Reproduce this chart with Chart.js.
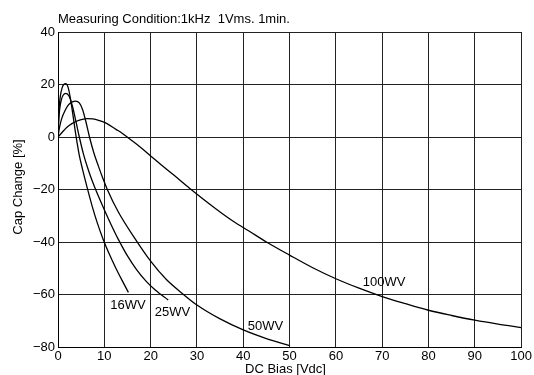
<!DOCTYPE html>
<html>
<head>
<meta charset="utf-8">
<script src="https://cdn.jsdelivr.net/npm/chart.js@4/dist/chart.umd.min.js"></script>
<style>
html,body{margin:0;padding:0;background:#fff;}
#wrap{width:534px;height:375px;position:relative;}
</style>
</head>
<body>
<div id="wrap"><canvas id="c" width="534" height="375"></canvas></div>
<script>
// ---- data ----
const xTicks = [0,10,20,30,40,50,60,70,80,90,100];
const yTicks = [-80,-60,-40,-20,0,20,40];

const vdc16 = [0,0.2,0.5,0.9,1.3,1.65,2.2,2.7,3.2,3.7,4.15,4.6,5.3,6.3,7.4,8.5,9.8,11,12.5,14,15.2];
const cap16 = [0,10,15.5,18.8,20.1,20.3,18.8,14.5,8.7,2.5,-2.5,-7,-12.3,-19.3,-26.5,-32.8,-39.2,-44.3,-50,-55.2,-59.2];

const vdc25 = [0,0.15,0.35,0.7,1.1,1.7,2.4,3.1,3.8,4.6,5.5,6.5,7.4,8.3,9.9,11.5,13,15,17,19,21,23.8];
const cap25 = [0,6,10.5,14,15.9,16.6,15.5,11.8,6.5,0,-6.5,-12.3,-16.8,-20.8,-27.3,-33.5,-38.9,-45.3,-50.6,-54.9,-58.3,-62.1];

const vdc50 = [0,0.3,0.8,1.5,2.3,3,3.8,4.6,5.3,6,6.8,7.7,8.7,9.7,10.6,13,16.8,20,23.4,26.7,30,35,40,45,50];
const cap50 = [0,3.5,7,10,12.3,13.3,13.7,13,10.5,6,0,-5.8,-11,-15.8,-19.8,-28.5,-39.2,-47.3,-54.3,-59.4,-64,-69.3,-73.5,-76.8,-79.5];

const vdc100 = [0,1,2,3,4,5,6.3,7.5,9,10.5,12.6,13.4,15.5,17,20.2,22,25,28.4,34.2,38,41.4,45,50,55,60,65,70,75,80,85,90,95,100];
const cap100 = [0,2,3.8,5.1,6.0,6.6,7.0,6.9,6.2,5.2,2.8,2.0,-0.8,-2.8,-7.5,-10.2,-14.5,-19.5,-27.5,-32.3,-36,-40,-45,-49.8,-54,-57.6,-60.8,-63.5,-66,-68,-69.8,-71.3,-72.6];

const seriesNames = ['16WV','25WV','50WV','100WV'];
const labelX = [15.1,24.7,44.8,70.4];
const labelY = [-64.3,-67,-72.1,-55.5];

const titleText = 'Measuring Condition:1kHz  1Vms. 1min.';
const xTitle = 'DC Bias [Vdc]';
const yTitle = 'Cap Change [%]';

// ---- build ----
function pts(xs, ys){ return xs.map((x,i)=>({x:x,y:ys[i]})); }
const allX = [vdc16,vdc25,vdc50,vdc100];
const allY = [cap16,cap25,cap50,cap100];
const FONT = '"Liberation Sans", Arial, sans-serif';

const datasets = seriesNames.map((n,i)=>({
  label:n,
  data:pts(allX[i],allY[i]),
  borderColor:'#000',
  borderWidth:1.3,
  pointRadius:0,
  fill:false,
  cubicInterpolationMode:'monotone'
}));

const textPlugin = {
  id:'texts',
  afterDraw(chart){
    const ctx = chart.ctx;
    const xs = chart.scales.x, ys = chart.scales.y;
    ctx.save();
    ctx.fillStyle = '#000';
    ctx.font = '13px ' + FONT;
    ctx.textBaseline = 'middle';
    ctx.textAlign = 'center';
    seriesNames.forEach((n,i)=>{
      ctx.fillText(n, xs.getPixelForValue(labelX[i]), ys.getPixelForValue(labelY[i]));
    });
    ctx.textBaseline = 'alphabetic';
    ctx.textAlign = 'left';
    ctx.fillText(titleText, 58, 23);
    ctx.textAlign = 'center';
    ctx.fillText(xTitle, 285.5, 373);
    ctx.translate(22, 187);
    ctx.rotate(-Math.PI/2);
    ctx.fillText(yTitle, 0, 0);
    ctx.restore();
  }
};

new Chart(document.getElementById('c'), {
  type:'line',
  data:{datasets:datasets},
  options:{
    responsive:false,
    animation:false,
    devicePixelRatio:1,
    layout:{padding:{left:0,right:12,top:32,bottom:0}},
    plugins:{legend:{display:false},tooltip:{enabled:false}},
    scales:{
      x:{
        type:'linear', min:0, max:100,
        afterBuildTicks(s){ s.ticks = xTicks.map(v=>({value:v})); },
        afterFit(s){ s.height = 28; },
        grid:{color:'#222', lineWidth:1, drawTicks:false},
        border:{color:'#000', width:1},
        ticks:{color:'#000', padding:2, font:{family:FONT, size:13}, maxRotation:0}
      },
      y:{
        type:'linear', min:-80, max:40,
        afterBuildTicks(s){ s.ticks = yTicks.map(v=>({value:v})); },
        afterFit(s){ s.width = 58; },
        grid:{color:'#222', lineWidth:1, drawTicks:false},
        border:{color:'#000', width:1},
        ticks:{color:'#000', padding:3, font:{family:FONT, size:13},
          callback:(v)=> (v<0 ? '\u2212'+Math.abs(v) : String(v))}
      }
    }
  },
  plugins:[textPlugin]
});
</script>
</body>
</html>
